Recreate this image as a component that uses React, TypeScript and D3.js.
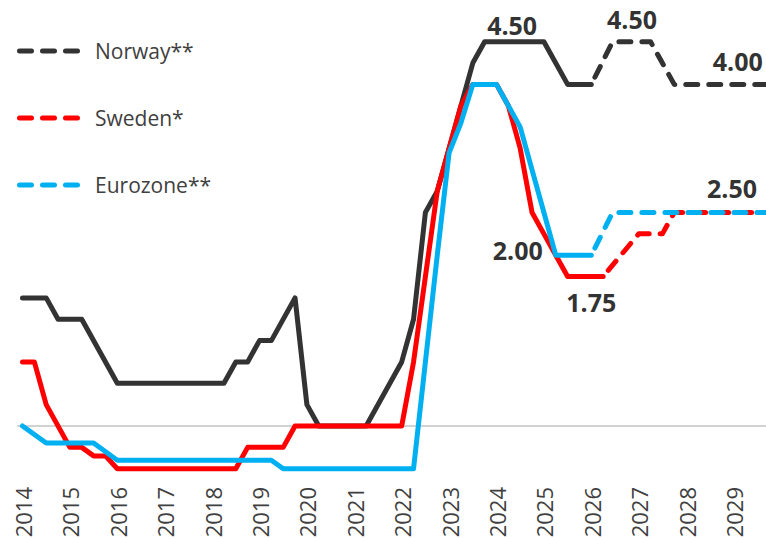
import React from "react";
import * as d3 from "d3";

// ---------- data ----------
const tickYears = [2014, 2015, 2016, 2017, 2018, 2019, 2020, 2021, 2022, 2023, 2024, 2025, 2026, 2027, 2028, 2029];

const norwayYears = [2014.0, 2014.5, 2014.75, 2015.25, 2016.0, 2018.25, 2018.5, 2018.75, 2019.0, 2019.25, 2019.75, 2020.0, 2020.25, 2021.25, 2022.0, 2022.25, 2022.5, 2022.75, 2023.5, 2023.75, 2025.0, 2025.5, 2026.0, 2026.45, 2027.25, 2027.75, 2029.75];
const norwayValues = [1.5, 1.5, 1.25, 1.25, 0.5, 0.5, 0.75, 0.75, 1.0, 1.0, 1.5, 0.25, 0, 0, 0.75, 1.25, 2.5, 2.75, 4.25, 4.5, 4.5, 4.0, 4.0, 4.5, 4.5, 4.0, 4.0];
const norwayForecastFrom = 2026.0;

const swedenYears = [2014.0, 2014.25, 2014.5, 2015.0, 2015.25, 2015.5, 2015.75, 2016.0, 2018.5, 2018.75, 2019.5, 2019.75, 2022.0, 2022.25, 2022.5, 2022.75, 2023.0, 2023.25, 2023.5, 2024.0, 2024.25, 2024.5, 2024.75, 2025.0, 2025.25, 2025.5, 2026.25, 2027.0, 2027.5, 2027.75, 2029.75];
const swedenValues = [0.75, 0.75, 0.25, -0.25, -0.25, -0.35, -0.35, -0.5, -0.5, -0.25, -0.25, 0, 0, 0.75, 1.75, 2.75, 3.25, 3.75, 4.0, 4.0, 3.75, 3.25, 2.5, 2.25, 2.0, 1.75, 1.75, 2.25, 2.25, 2.5, 2.5];
const swedenForecastFrom = 2026.25;

const euroYears = [2014.0, 2014.5, 2015.5, 2016.0, 2019.25, 2019.5, 2022.25, 2022.5, 2022.75, 2023.0, 2023.25, 2023.5, 2024.0, 2024.25, 2024.5, 2024.75, 2025.0, 2025.25, 2026.0, 2026.45, 2029.75];
const euroValues = [0, -0.2, -0.2, -0.4, -0.4, -0.5, -0.5, 0.75, 2.0, 3.2, 3.55, 4.0, 4.0, 3.75, 3.5, 3.0, 2.5, 2.0, 2.0, 2.5, 2.5];
const euroForecastFrom = 2026.0;

const seriesNames = ["Norway**", "Sweden*", "Eurozone**"];

const annotationTexts = ["4.50", "4.50", "4.00", "2.50", "2.00", "1.75"];
const annotationYears = [2024.33, 2026.86, 2029.09, 2028.97, 2024.45, 2026.0];
const annotationValues = [4.5, 4.5, 4.0, 2.5, 2.0, 1.75];

// ---------- layout ----------
const W = 766;
const H = 539;
const COLORS = ["#333333", "#FF0000", "#00B0F0"];
const annOffsets = [-7, -13, -13, -14.5, 5, 35.5];

type Pt = { x: number; y: number };

export default function App() {
  const x = d3.scaleLinear().domain([2014, 2029]).range([22.5, 22.5 + 47.4 * 15]);
  const y = d3.scaleLinear().domain([0, 4.5]).range([426, 426 - 85.4 * 4.5]);
  const line = d3
    .line<Pt>()
    .x((d) => x(d.x))
    .y((d) => y(d.y));

  const series = [
    { years: norwayYears, values: norwayValues, from: norwayForecastFrom },
    { years: swedenYears, values: swedenValues, from: swedenForecastFrom },
    { years: euroYears, values: euroValues, from: euroForecastFrom },
  ];

  const font = "'Open Sans', 'Noto Sans', sans-serif";

  return (
    <div style={{ position: "absolute", left: 0, top: 0 }}>
      <svg width={W} height={H} style={{ display: "block", background: "#fff" }}>
        {/* zero line */}
        <line x1={17} x2={W} y1={y(0)} y2={y(0)} stroke="#A6A6A6" strokeWidth={1.2} />

        {series.map((s, i) => {
          const pts: Pt[] = s.years.map((yr, k) => ({ x: yr, y: s.values[k] }));
          const solid = pts.filter((p) => p.x <= s.from);
          const dashed = pts.filter((p) => p.x >= s.from);
          return (
            <g key={i}>
              <path
                d={line(solid) || ""}
                fill="none"
                stroke={COLORS[i]}
                strokeWidth={5}
                strokeLinejoin="round"
                strokeLinecap="round"
              />
              <path
                d={line(dashed) || ""}
                fill="none"
                stroke={COLORS[i]}
                strokeWidth={5}
                strokeLinejoin="round"
                strokeLinecap="round"
                strokeDasharray="12 11"
                strokeDashoffset={-8}
              />
            </g>
          );
        })}

        {/* annotations */}
        {annotationTexts.map((t, i) => (
          <text
            key={i}
            x={x(annotationYears[i])}
            y={y(annotationValues[i]) + annOffsets[i]}
            textAnchor="middle"
            fontFamily={font}
            fontWeight={700}
            fontSize={25}
            fill="#333333"
          >
            {t}
          </text>
        ))}

        {/* legend */}
        {seriesNames.map((n, i) => {
          const ly = 51 + i * 67;
          return (
            <g key={n}>
              <line
                x1={19.5}
                x2={79.5}
                y1={ly}
                y2={ly}
                stroke={COLORS[i]}
                strokeWidth={5}
                strokeLinecap="round"
                strokeDasharray="12 11"
              />
              <text x={95} y={ly + 8} fontFamily={font} fontSize={21} fill="#404040">
                {n}
              </text>
            </g>
          );
        })}

        {/* x tick labels */}
        {tickYears.map((yr) => (
          <text
            key={yr}
            transform={`translate(${x(yr) + 1.5},487) rotate(-90)`}
            textAnchor="end"
            dy="0.36em"
            fontFamily={font}
            fontSize={22}
            fill="#404040"
          >
            {yr}
          </text>
        ))}
      </svg>
    </div>
  );
}
